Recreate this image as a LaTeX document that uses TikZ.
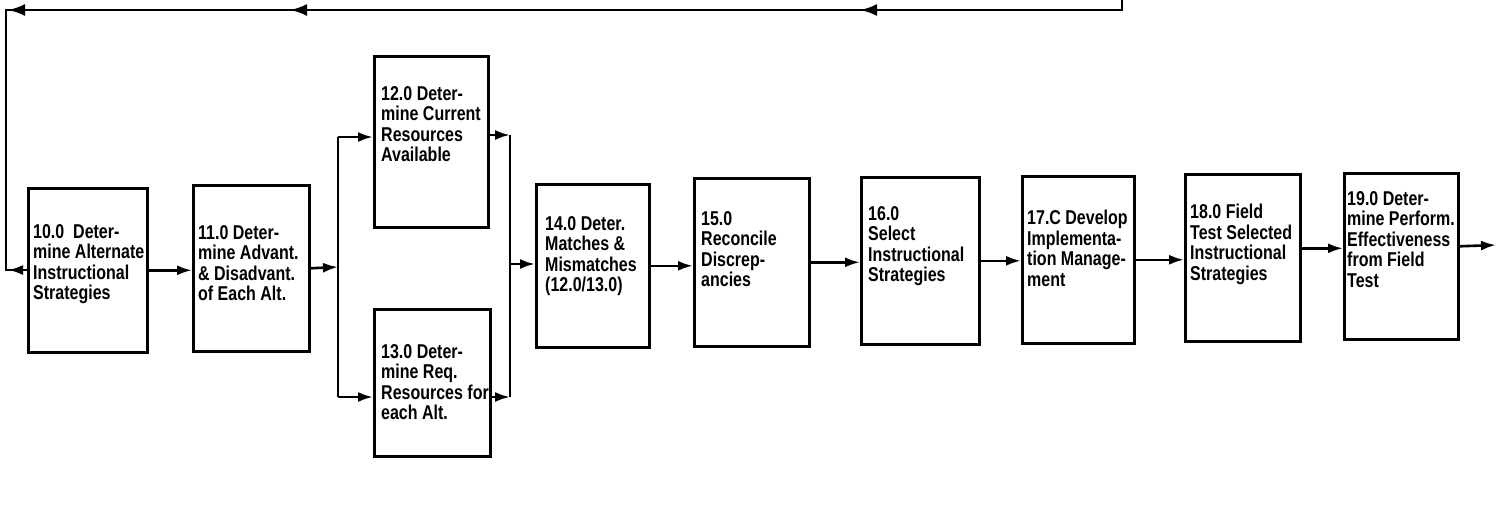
\documentclass[tikz,border=0pt]{standalone}
\usepackage{fontspec}
\setmainfont[FakeStretch=0.8]{Liberation Sans}
\usetikzlibrary{arrows.meta,decorations.markings}
\begin{document}
\begin{tikzpicture}[x=1pt,y=-1pt,
  box/.style={draw, line width=2.6pt, inner sep=0pt, anchor=north west},
  txt/.style={anchor=north west, inner sep=0pt, align=left, font=\bfseries\fontsize{20}{20.5}\selectfont},
  conn/.style={line width=2.6pt},
  arr/.style={conn, -{Latex[length=15pt,width=10pt]}},
  fbmarks/.style={postaction={decorate}, decoration={markings,
     mark=at position 272pt with {\arrow{Latex[length=17pt,width=12pt]}},
     mark=at position 842pt with {\arrow{Latex[length=17pt,width=12pt]}},
     mark=at position 1124pt with {\arrow{Latex[length=17pt,width=12pt]}},
     mark=at position 1388pt with {\arrowreversed{Latex[length=15pt,width=10pt]}}}}
]
\useasboundingbox (0,0) rectangle (1497,515);

% boxes
\node[box, minimum width=119pt, minimum height=164pt] (b10) at (27,187) {};
\node[box, minimum width=116pt, minimum height=166pt] (b11) at (192,184) {};
\node[box, minimum width=114pt, minimum height=171pt] (b12) at (373,55) {};
\node[box, minimum width=116pt, minimum height=147pt] (b13) at (373,308) {};
\node[box, minimum width=113pt, minimum height=163pt] (b14) at (535,183) {};
\node[box, minimum width=115pt, minimum height=168pt] (b15) at (693,177) {};
\node[box, minimum width=118pt, minimum height=167pt] (b16) at (860,176) {};
\node[box, minimum width=112pt, minimum height=167pt] (b17) at (1021,175) {};
\node[box, minimum width=115pt, minimum height=167pt] (b18) at (1184,173) {};
\node[box, minimum width=114pt, minimum height=166pt] (b19) at (1343,172) {};

% texts
\node[txt] (t10) at (33,224) {10.0\ \ Deter-\\mine Alternate\\Instructional\\Strategies};
\node[txt] (t11) at (198,225) {11.0 Deter-\\mine Advant.\\\& Disadvant.\\of Each Alt.};
\node[txt] (t12) at (381,86) {12.0 Deter-\\mine Current\\Resources\\Available};
\node[txt] (t13) at (381,344) {13.0 Deter-\\mine Req.\\Resources for\\each Alt.};
\node[txt] (t14) at (545,216) {14.0 Deter.\\Matches \&\\Mismatches\\(12.0/13.0)};
\node[txt] (t15) at (701,211) {15.0\\Reconcile\\Discrep-\\ancies};
\node[txt] (t16) at (868,206) {16.0\\Select\\Instructional\\Strategies};
\node[txt] (t17) at (1027,210) {17.C Develop\\Implementa-\\tion Manage-\\ment};
\node[txt] (t18) at (1190,204) {18.0 Field\\Test Selected\\Instructional\\Strategies};
\node[txt] (t19) at (1347,191) {19.0 Deter-\\mine Perform.\\Effectiveness\\from Field\\Test};

% feedback loop
\coordinate (fbA) at (1122,0);
\coordinate (fbB) at (1122,10);
\coordinate (fbC) at (6,10);
\coordinate (fbD) at (6,270);
\draw[conn, fbmarks] (fbA) -- (fbB) -- (fbC) -- (fbD) -- (fbD -| b10.west);

% 10 -> 11
\draw[arr] (b10.east) -- (b10.east -| b11.west);

% split
\coordinate (sp) at (338,267);
\coordinate (spT) at (338,137);
\coordinate (spB) at (338,397);
\draw[arr] (b11.east) -- (sp);
\draw[conn] (spT) -- (spB);
\draw[arr] (spT) -- (spT -| b12.west);
\draw[arr] (spB) -- (spB -| b13.west);

% merge
\coordinate (mT) at (510,135);
\coordinate (mB) at (510,397);
\coordinate (mM) at (510,264);
\draw[conn] (mT) -- (mB);
\draw[arr] (mT -| b12.east) -- (mT);
\draw[arr] (mB -| b13.east) -- (mB);
\draw[arr] (mM) -- (mM -| b14.west);

% chain
\draw[arr] (b14.east) -- (b14.east -| b15.west);
\draw[arr] (b15.east) -- (b15.east -| b16.west);
\draw[arr] (b16.east) -- (b16.east -| b17.west);
\draw[arr] (b17.east) -- (b17.east -| b18.west);
\draw[arr] ([yshift=9.5pt]b18.east) -- ([yshift=9.5pt]b18.east -| b19.west);
\coordinate (out) at (1496,245);
\draw[arr] ([yshift=10pt]b19.east) -- (out);
\end{tikzpicture}
\end{document}
